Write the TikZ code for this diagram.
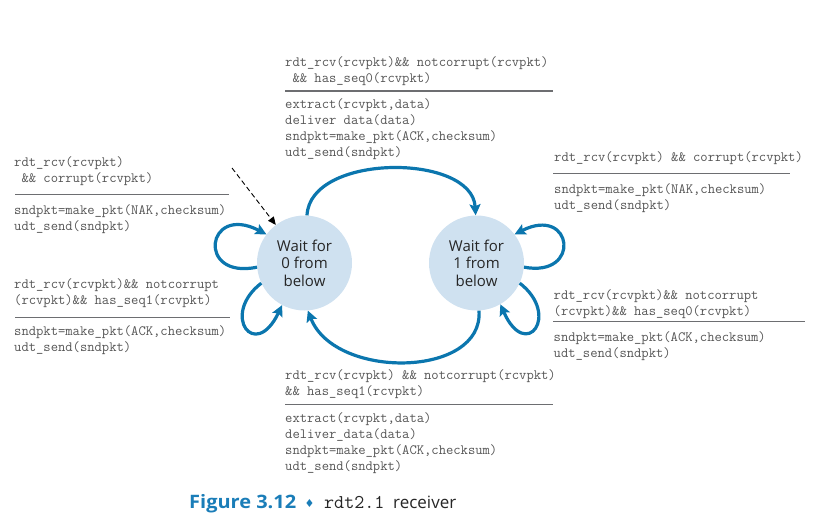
\documentclass[tikz,border=0pt]{standalone}
\usepackage{fontspec}
\setmainfont{Open Sans}
\newfontfamily\symfont{DejaVu Sans}
\newfontfamily\capfont[FakeStretch=1.08]{Open Sans}
\usetikzlibrary{arrows.meta}
\definecolor{arcblue}{HTML}{0B76AE}
\definecolor{statefill}{HTML}{CFE1F0}
\definecolor{codegray}{HTML}{555555}
\definecolor{rulegray}{HTML}{6D6E71}
\definecolor{capblue}{HTML}{1A7DB8}
\newcommand{\codeblock}[1]{\vtop{\baselineskip=16pt\lineskiplimit=-20pt #1}}
\begin{document}
\begin{tikzpicture}[x=1pt,y=-1pt,
  state/.style={circle,fill=statefill,minimum size=95pt,inner sep=0pt,align=center,
    font=\fontsize{15}{17.5}\selectfont,text=black!85},
  code/.style={anchor=base west,inner sep=0pt,font=\fontsize{14.2}{16}\ttfamily,text=codegray},
  rulex/.style={draw=rulegray,line width=1.4pt},
  trans/.style={draw=arcblue,line width=3.2pt,-{Stealth[length=11pt,width=11pt,inset=2pt]}},
  init/.style={draw=black,line width=0.9pt,dash pattern=on 5pt off 3pt,-{Triangle[length=8pt,width=7pt]}},
  capt/.style={anchor=base west,inner sep=0pt}]
\useasboundingbox (0,0) rectangle (814,525);

% states
\node[state] (s0) at (304.5,263) {Wait for\\0 from\\below};
\node[state] (s1) at (476.5,263) {Wait for\\1 from\\below};

% initial arrow
\coordinate (initstart) at (232,168);
\draw[init] (initstart) -- (s0.127);

% transitions
\draw[trans] (s0.87) .. controls (310,153) and (472,153) .. (s1.91);
\draw[trans] (s1.-87) .. controls (484,378) and (335,380) .. (s0.-86);
\draw[trans] (s0.185) .. controls (196,280) and (206,203) .. (s0.143);
\draw[trans] (s0.205) .. controls (220,315) and (255,362) .. (s0.242);
\draw[trans] (s1.-5) .. controls (582,278) and (573,205) .. (s1.37);
\draw[trans] (s1.-25) .. controls (561,315) and (526,362) .. (s1.-60);

% top label
\node[code] (tc) at (285,66.7) {\codeblock{\hbox{rdt\_rcv(rcvpkt)\&\& notcorrupt(rcvpkt)}\hbox{\ \&\& has\_seq0(rcvpkt)}}};
\draw[rulex] (285,91) -- (553,91);
\node[code] (ta) at (285,108.3) {\codeblock{\hbox{extract(rcvpkt,data)}\hbox{deliver data(data)}\hbox{sndpkt=make\_pkt(ACK,checksum)}\hbox{udt\_send(sndpkt)}}};

% left top label
\node[code] (ltc) at (14,166) {\codeblock{\hbox{rdt\_rcv(rcvpkt)}\hbox{\ \&\& corrupt(rcvpkt)}}};
\draw[rulex] (15,194.3) -- (229,194.3);
\node[code] (lta) at (14,214) {\codeblock{\hbox{sndpkt=make\_pkt(NAK,checksum)}\hbox{udt\_send(sndpkt)}}};

% left bottom label
\node[code] (lbc) at (14,288.3) {\codeblock{\hbox{rdt\_rcv(rcvpkt)\&\& notcorrupt}\hbox{(rcvpkt)\&\& has\_seq1(rcvpkt)}}};
\draw[rulex] (15,317.3) -- (230,317.3);
\node[code] (lba) at (14,335) {\codeblock{\hbox{sndpkt=make\_pkt(ACK,checksum)}\hbox{udt\_send(sndpkt)}}};

% right top label
\node[code] (rtc) at (554,161.7) {\codeblock{\hbox{rdt\_rcv(rcvpkt) \&\& corrupt(rcvpkt)}}};
\draw[rulex] (553,173.3) -- (790,173.3);
\node[code] (rta) at (554,193.3) {\codeblock{\hbox{sndpkt=make\_pkt(NAK,checksum)}\hbox{udt\_send(sndpkt)}}};

% right bottom label
\node[code] (rbc) at (553.5,299.3) {\codeblock{\hbox{rdt\_rcv(rcvpkt)\&\& notcorrupt}\hbox{(rcvpkt)\&\& has\_seq0(rcvpkt)}}};
\draw[rulex] (553,321.7) -- (805,321.7);
\node[code] (rba) at (553.5,341) {\codeblock{\hbox{sndpkt=make\_pkt(ACK,checksum)}\hbox{udt\_send(sndpkt)}}};

% bottom label
\node[code] (bc) at (285,379.3) {\codeblock{\hbox{rdt\_rcv(rcvpkt) \&\& notcorrupt(rcvpkt)}\hbox{\&\& has\_seq1(rcvpkt)}}};
\draw[rulex] (285,404.3) -- (553,404.3);
\node[code] (ba) at (285,422.7) {\codeblock{\hbox{extract(rcvpkt,data)}\hbox{deliver\_data(data)}\hbox{sndpkt=make\_pkt(ACK,checksum)}\hbox{udt\_send(sndpkt)}}};

% caption
\node[capt,text=capblue,font=\fontsize{18.5}{20}\capfont\bfseries] (cap1) at (189,508.3) {Figure 3.12};
\node[anchor=center,inner sep=0pt,text=capblue,font=\fontsize{11}{12}\symfont] (capd) at (309.5,503) {♦};
\node[capt,text=black!85,font=\fontsize{19.5}{20}\ttfamily] (cap2) at (324,508.3) {rdt2.1};
\node[capt,text=black!85,font=\fontsize{17}{18}\selectfont] (cap3) at (393,508.3) {receiver};
\end{tikzpicture}
\end{document}
